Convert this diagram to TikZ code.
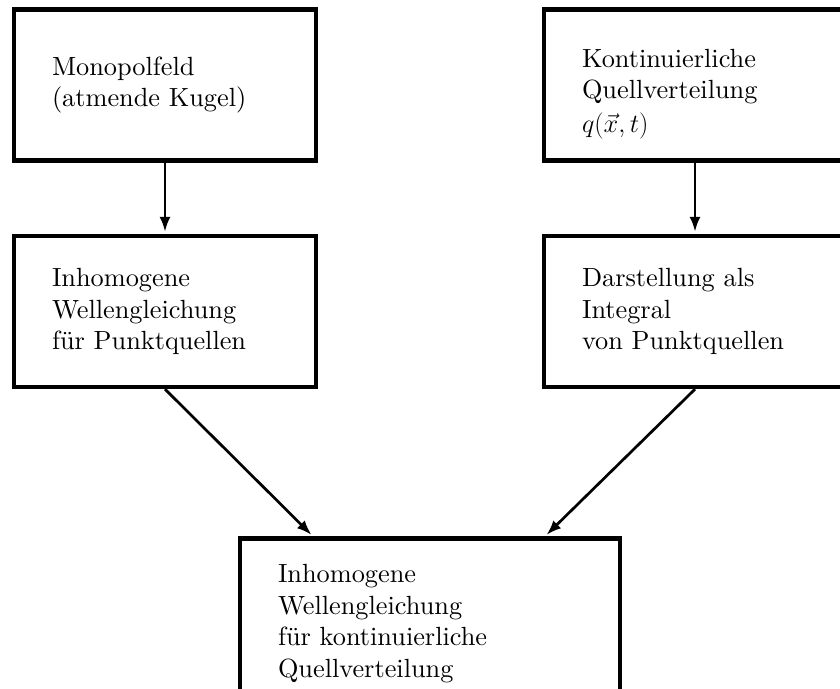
\documentclass[tikz,border=0pt]{standalone}
\usepackage{fix-cm}
\usepackage{fontspec}
\setmainfont{lmroman10-regular}[Extension=.otf, ItalicFont=lmroman10-italic, BoldFont=lmroman10-bold]
\usetikzlibrary{arrows.meta}
\tikzset{
  box/.style={draw, line width=4.3pt, rectangle, minimum width=302pt, minimum height=151pt,
    text width=226pt, align=left, inner xsep=38pt, inner ysep=0pt,
    font=\fontsize{26.3}{31.5}\selectfont},
  widebox/.style={box, minimum width=330pt, text width=254pt},
  arr/.style={line width=2.7pt, -{Latex[length=15pt,width=11pt]}, shorten >=2pt}
}
\begin{document}
\begin{tikzpicture}[x=1pt,y=-1pt]
\useasboundingbox (0,0) rectangle (840,688);
\clip (0,0) rectangle (840,688);
\node[box] (m) at (165,85) {Monopolfeld\\(atmende Kugel)};
\node[widebox] (k) at (709,85) {\rule{0pt}{36pt}Kontinuierliche\\Quellverteilung\\[2pt]$q(\vec{x},t)$\par\vspace*{0pt}};
\node[box] (i) at (165,311.5) {Inhomogene\\Wellengleichung\\für Punktquellen};
\node[widebox] (d) at (709,311.5) {Darstellung als\\Integral\\von Punktquellen};
\node[box, minimum width=380pt, text width=304pt, minimum height=170pt] (w) at (430,623.5) {Inhomogene\\Wellengleichung\\für kontinuierliche\\Quellverteilung\par\vspace*{18pt}};
\draw[arr] (m.south) -- (i.north);
\draw[arr] ([xshift=-14pt]k.south) -- ([xshift=-14pt]d.north);
\draw[arr] (i.south) -- ([xshift=-117pt]w.north);
\draw[arr] ([xshift=-14pt]d.south) -- ([xshift=115pt]w.north);
\end{tikzpicture}
\end{document}
